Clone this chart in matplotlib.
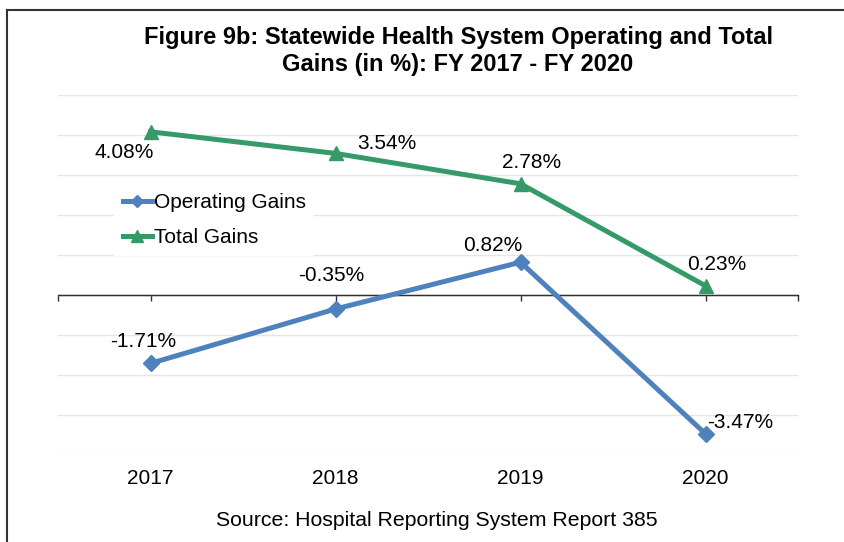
import matplotlib
matplotlib.use('Agg')
import matplotlib.pyplot as plt

plt.rcParams['font.family'] = ['Liberation Sans', 'DejaVu Sans']

years = ['2017', '2018', '2019', '2020']
operating_gains = [-1.71, -0.35, 0.82, -3.47]
total_gains = [4.08, 3.54, 2.78, 0.23]

# label offsets in points (dx, dy), picked to match the original layout
operating_offsets = [(-5, 16), (-3, 24), (-20, 12), (25, 8)]
total_offsets = [(-19, -15), (37, 7), (8, 15), (8, 15)]

blue = '#4F81BD'
green = '#369A68'

fig = plt.figure(figsize=(8.44, 5.42), dpi=100)
ax = fig.add_axes([58 / 844, 1 - 455 / 542, 740 / 844, 360 / 542])

x = range(len(years))
ax.plot(x, operating_gains, color=blue, lw=3.6, marker='D', ms=8,
        label='Operating Gains', zorder=3)
ax.plot(x, total_gains, color=green, lw=3.6, marker='^', ms=10,
        label='Total Gains', zorder=3)

for i, v in enumerate(operating_gains):
    ax.annotate(f'{v:.2f}%', (i, v), xytext=operating_offsets[i],
                textcoords='offset points', ha='center', va='center', fontsize=15)
for i, v in enumerate(total_gains):
    ax.annotate(f'{v:.2f}%', (i, v), xytext=total_offsets[i],
                textcoords='offset points', ha='center', va='center', fontsize=15)

ax.set_xlim(-0.5, len(years) - 0.5)
ax.set_ylim(-4, 5)
ax.set_yticks(range(-4, 6))
ax.yaxis.grid(True, color='#e6e6e6', lw=1)
ax.set_axisbelow(True)
ax.tick_params(axis='y', left=False, labelleft=False)
ax.set_xticks(list(x), years)
ax.tick_params(axis='x', length=0, labelsize=15, pad=10)
for s in ax.spines.values():
    s.set_visible(False)

# horizontal axis line at zero with tick marks
ax.axhline(0, color='#303030', lw=1, zorder=2)
zero = ax.secondary_xaxis(4 / 9)
zero.set_xticks([-0.5] + list(x) + [len(years) - 0.5])
zero.set_xticklabels([])
zero.tick_params(direction='out', length=4, width=1, color='#303030')

leg = ax.legend(loc='upper left', bbox_to_anchor=(0.062, 0.78), fontsize=15,
                frameon=True, fancybox=False, edgecolor='none', framealpha=1,
                handlelength=1.4, handletextpad=0.1, labelspacing=0.78,
                borderpad=0.4, markerscale=0.8)

fig.text(458 / 844, 1 - 51 / 542,
         'Figure 9b: Statewide Health System Operating and Total\nGains (in %): FY 2017 - FY 2020',
         ha='center', va='center', fontsize=17, fontweight='bold', linespacing=1.2)
fig.text(437 / 844, 1 - 520 / 542, 'Source: Hospital Reporting System Report 385',
         ha='center', va='center', fontsize=15.3)

# partial frame like the clipped original
fig.add_artist(plt.Line2D([7 / 844, 1], [1 - 10 / 542] * 2, color='#333333', lw=1.5))
fig.add_artist(plt.Line2D([7 / 844] * 2, [0, 1 - 10 / 542], color='#333333', lw=1.5))

fig.savefig('out.png', dpi=100)
